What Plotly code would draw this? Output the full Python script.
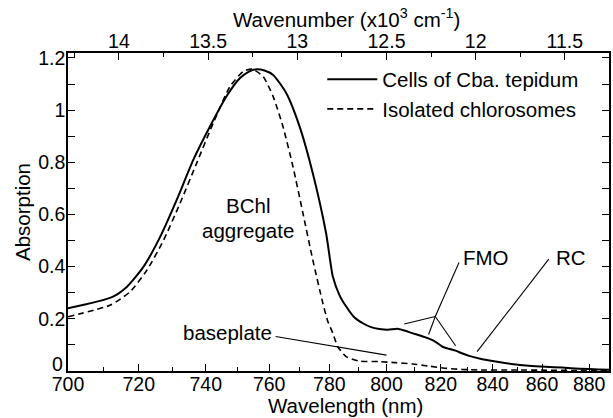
import plotly.graph_objects as go

# ---------------- data ----------------
cells_nm = [700, 712.3, 716.6, 721.4, 726.3, 731.2, 736.2, 741.3, 746.4, 750.6, 753.5, 755.9,
            758.5, 761.3, 765.6, 770.0, 774.4, 778.9, 781.2, 783.5, 785.8, 788.5, 791.6, 794.5,
            797.4, 800.5, 804.0, 806.5, 809.4, 812.5, 815.3, 818.0, 820.6, 823.0, 825.6, 828.0,
            830.8, 835.5, 841.2, 847.5, 854.6, 861.5, 868.4, 876.0, 884.1, 889.0]
cells_abs = [0.240, 0.283, 0.323, 0.400, 0.515, 0.656, 0.809, 0.937, 1.052, 1.122, 1.148, 1.157,
             1.152, 1.135, 1.065, 0.937, 0.758, 0.528, 0.362, 0.290, 0.247, 0.207, 0.183, 0.168,
             0.161, 0.158, 0.162, 0.155, 0.145, 0.135, 0.125, 0.112, 0.093, 0.085, 0.078, 0.068,
             0.058, 0.046, 0.036, 0.027, 0.020, 0.016, 0.013, 0.009, 0.006, 0.005]

chl_nm = [700, 711.9, 717.5, 722.4, 727.3, 732.2, 737.2, 742.3, 747.5, 751.7, 754.6, 758.1,
          761.3, 764.5, 767.8, 771.1, 774.4, 777.8, 779.5, 781.2, 782.9, 785.8, 790.4, 797.4,
          803.0, 809.4, 816.0, 822.3, 828.0, 834.6, 848.0, 862.0, 875.0, 889.0]
chl_abs = [0.208, 0.253, 0.304, 0.387, 0.502, 0.643, 0.796, 0.950, 1.090, 1.148, 1.157, 1.128,
           1.052, 0.937, 0.783, 0.605, 0.426, 0.260, 0.190, 0.145, 0.093, 0.055, 0.038, 0.036,
           0.032, 0.027, 0.018, 0.010, 0.006, 0.004, 0.004, 0.003, 0.002, 0.002]

bottom_ticks_nm = [700, 720, 740, 760, 780, 800, 820, 840, 860, 880]
bottom_minor_nm = [710, 730, 750, 770, 790, 810, 830, 850, 870]
top_ticks = [14, 13.5, 13, 12.5, 12, 11.5]
top_tick_text = ["14", "13.5", "13", "12.5", "12", "11.5"]
top_minor = [14.25, 13.75, 13.25, 12.75, 12.25, 11.75, 11.25]
y_ticks = [0, 0.2, 0.4, 0.6, 0.8, 1.0, 1.2]
y_tick_text = ["", "0.2", "0.4", "0.6", "0.8", "1", "1.2"]   # "0" drawn raised, as in the original
y_zero_label = "0"

series_names = ["Cells of Cba. tepidum", "Isolated chlorosomes"]
x_title = "Wavelength (nm)"
x2_title = "Wavenumber (x10<sup>3</sup> cm<sup>-1</sup>)"
y_title = "Absorption"

# annotation pointers (wavelength nm, absorption)
fmo_lines = [((826.9, 0.416), (817.9, 0.209)),
             ((817.9, 0.209), (815.4, 0.140)),
             ((817.9, 0.209), (806.4, 0.180)),
             ((817.9, 0.209), (825.6, 0.097))]
rc_line = ((862.8, 0.429), (833.9, 0.074))
base_line = ((762.1, 0.132), (800.0, 0.061))
labels = [("FMO", 837.4, 0.437), ("RC", 872.1, 0.437),
          ("BChl", 753.2, 0.635), ("aggregate", 753.2, 0.538),
          ("baseplate", 746.9, 0.146)]

x_range_nm = (700.0, 888.7)
y_range = (0, 1.219)

# ---------------- figure ----------------
def wn(nm):
    return 1e4 / nm

FONT = "Arial, 'Liberation Sans', sans-serif"
TICK = 19.5
TITLE = 20.5
fig = go.Figure()
fig.add_trace(go.Scatter(x=[wn(v) for v in cells_nm], y=cells_abs, mode="lines",
                         name=series_names[0],
                         line=dict(color="black", width=2, shape="spline", smoothing=0.6)))
fig.add_trace(go.Scatter(x=[wn(v) for v in chl_nm], y=chl_abs, mode="lines",
                         name=series_names[1],
                         line=dict(color="black", width=1.6, dash="6px,4px", shape="spline", smoothing=0.6)))
# dummy trace to activate the top axis
fig.add_trace(go.Scatter(x=[None], y=[None], xaxis="x2", showlegend=False, hoverinfo="skip"))

for (p, q) in fmo_lines + [rc_line, base_line]:
    fig.add_shape(type="line", xref="x", yref="y", x0=wn(p[0]), y0=p[1], x1=wn(q[0]), y1=q[1],
                  line=dict(color="black", width=1.1))
for text, lx, ly in labels:
    fig.add_annotation(x=wn(lx), y=ly, xref="x", yref="y", text=text, showarrow=False,
                       font=dict(family=FONT, size=TITLE, color="black"))
fig.add_annotation(x=0, y=0, xref="paper", yref="y", text=y_zero_label, showarrow=False,
                   xanchor="right", yanchor="middle", xshift=-3, yshift=7,
                   font=dict(family=FONT, size=TICK, color="black"))
# axis titles (placed as in the original)
fig.add_annotation(x=0.514, y=1.11, xref="paper", yref="paper", text=x2_title, showarrow=False,
                   xanchor="center", yanchor="middle", font=dict(family=FONT, size=TITLE, color="black"))
fig.add_annotation(x=0.513, y=-0.1478, xref="paper", yref="paper", text=x_title, showarrow=False,
                   xanchor="center", yanchor="bottom", borderpad=0,
                   font=dict(family=FONT, size=TITLE, color="black"))

xr = [wn(x_range_nm[0]), wn(x_range_nm[1])]
axis_common = dict(showline=True, linecolor="black", linewidth=1.5, ticks="inside",
                   tickcolor="black", tickwidth=1.2, ticklen=7, showgrid=False, zeroline=False,
                   tickfont=dict(family=FONT, size=TICK, color="black"))
fig.update_layout(
    width=613, height=418,
    margin=dict(l=68, r=2, t=53, b=47),
    paper_bgcolor="white", plot_bgcolor="white",
    font=dict(family=FONT, size=TICK, color="black"),
    xaxis=dict(range=xr, tickmode="array", tickvals=[wn(v) for v in bottom_ticks_nm],
               ticktext=[str(v) for v in bottom_ticks_nm], ticklabelstandoff=-5,
               minor=dict(tickmode="array", tickvals=[wn(v) for v in bottom_minor_nm],
                          ticks="inside", ticklen=4, tickcolor="black", tickwidth=1.2),
               **axis_common),
    xaxis2=dict(range=xr, overlaying="x", side="top", tickmode="array", tickvals=top_ticks,
                ticktext=top_tick_text, ticklabelstandoff=-5,
                minor=dict(tickmode="array", tickvals=top_minor, ticks="inside", ticklen=4,
                           tickcolor="black", tickwidth=1.2),
                **axis_common),
    yaxis=dict(range=list(y_range), tickmode="array", tickvals=y_ticks, ticktext=y_tick_text,
               mirror="ticks", ticklabelstandoff=-3,
               minor=dict(dtick=0.1, tick0=0, ticks="inside", ticklen=7, tickcolor="black",
                          tickwidth=1.2),
               title=dict(text=y_title, font=dict(family=FONT, size=TITLE), standoff=2),
               **axis_common),
    legend=dict(x=0.47, y=0.98, xanchor="left", yanchor="top", bgcolor="rgba(0,0,0,0)",
                font=dict(family=FONT, size=TITLE), itemwidth=50, tracegroupgap=0),
    showlegend=True,
)

fig.write_html("out.html")
